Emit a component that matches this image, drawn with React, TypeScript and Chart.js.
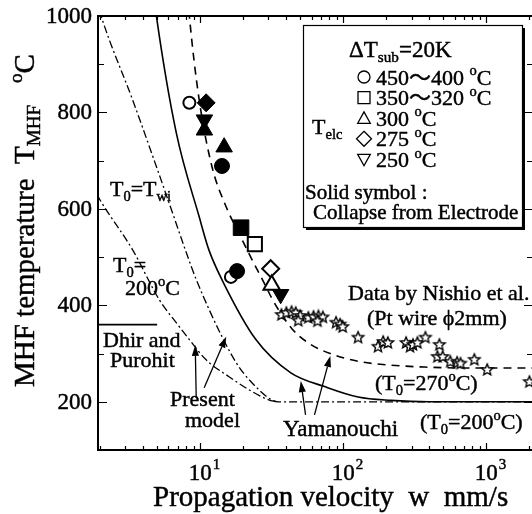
import React, { useEffect, useRef } from "react";
import { Chart, registerables } from "chart.js";

Chart.register(...registerables);

// ---------------- data ----------------
const xMin = 1.93;
const xMax = 2120;
const yMin = 100;
const yMax = 1000;
const yMajorTicks = [200, 400, 600, 800, 1000];
const yMinorTicks = [100, 300, 500, 700, 900];
const xMajorTicks = [10, 100, 1000];
const xMajorExponents = ["1", "2", "3"];

// Yamanouchi, T0 = 200 C (solid)
const yama200X = [4.8, 4.95, 6.8, 9.85, 11.5, 14.2, 24.5, 43, 75, 127, 215, 400, 2200];
const yama200Y = [1030, 998, 758, 583, 515, 453, 329, 260, 231, 210, 203, 200, 200];
// Yamanouchi, T0 = 270 C (dashed)
const yama270X = [8.2, 8.4, 9.84, 12.1, 15.2, 18.6, 23, 28.7, 31.6, 35.4, 43.6, 57, 81, 127, 215, 370, 700, 2200];
const yama270Y = [1040, 1000, 826, 687, 604, 550, 495, 440, 415, 390, 352, 322, 300, 284, 276, 272, 270, 270];
// Present model, T0 = Twi (dash-dot), continuing as the 200 C plateau
const modelTwiX = [1.98, 2.05, 3.37, 4.95, 6.4, 8.0, 9.4, 14.2, 18.6, 25.7, 31.6, 35, 2200];
const modelTwiY = [1012, 996, 826, 687, 592, 509, 453, 335, 273, 225, 204, 200, 200];
// Present model, T0 = 200 C (dash-dot)
const model200X = [1.9, 1.99, 3.37, 5.19, 6.8, 8.4, 11, 15.9, 21.9, 30.1, 34];
const model200Y = [630, 619, 515, 411, 364, 329, 287, 252, 225, 204, 200];
// Dhir and Purohit
const dhirX = [1.9, 5.0];
const dhirY = [360, 360];

// Experimental points (T_elc groups)
const openCircleX = [8.4, 16.4];
const openCircleY = [820, 459];
const filledCircleX = [14.2, 18.1];
const filledCircleY = [689, 471];
const filledSquareX = [19.3];
const filledSquareY = [561];
const openSquareX = [24.1];
const openSquareY = [527];
const filledTriUpX = [10.7, 14.7];
const filledTriUpY = [763, 728];
const openTriUpX = [31.6];
const openTriUpY = [442];
const filledDiamondX = [11.0];
const filledDiamondY = [820];
const openDiamondX = [31.1];
const openDiamondY = [476];
const filledTriDownX = [10.7, 36.5];
const filledTriDownY = [785, 423];

// Data by Nishio et al. (stars)
const nishioX = [37, 40, 43.5, 46.5, 50, 48.5, 57, 62, 67, 72, 66, 89, 95, 99, 127, 175, 190, 205, 275, 293, 307, 330, 375, 470, 455, 495, 560, 625, 660, 825, 1015, 2000];
const nishioY = [380, 384, 386, 384, 378, 368, 374, 376, 377, 375, 367, 364, 360, 355, 333, 314, 324, 322, 322, 314, 318, 322, 333, 318, 293, 293, 283, 281, 279, 287, 266, 241];

// Arrows (data coordinates: tail -> tip)
const arrowTailX = [9.38, 10.66, 54.5, 62.9];
const arrowTailY = [208, 229, 173, 173];
const arrowTipX = [9.23, 15.2, 50.5, 81.2];
const arrowTipY = [318, 335, 243, 295];

// ---------------- helpers ----------------
const SERIF = "'Liberation Serif', 'DejaVu Serif', 'Noto Sans CJK JP', serif";

const zip = (xs: number[], ys: number[]) => xs.map((x, i) => ({ x, y: ys[i] }));

type Seg = { t: string; s?: "sub" | "sup" };

function drawRich(ctx: CanvasRenderingContext2D, segs: Seg[], x: number, y: number, size: number) {
  let cx = x;
  ctx.lineWidth = 0.45;
  ctx.strokeStyle = "#000";
  for (const sg of segs) {
    const fs = sg.s ? size * 0.66 : size;
    ctx.font = `${fs}px ${SERIF}`;
    const dy = sg.s === "sub" ? size * 0.22 : sg.s === "sup" ? -size * 0.42 : 0;
    ctx.fillText(sg.t, cx, y + dy);
    ctx.strokeText(sg.t, cx, y + dy);
    cx += ctx.measureText(sg.t).width;
  }
  return cx - x;
}

function makeStar(r: number) {
  const c = document.createElement("canvas");
  const s = Math.ceil(r * 2 + 4);
  c.width = s;
  c.height = s;
  const g = c.getContext("2d")!;
  g.beginPath();
  for (let i = 0; i < 10; i++) {
    const ang = -Math.PI / 2 + (i * Math.PI) / 5;
    const rr = i % 2 === 0 ? r : r * 0.45;
    g.lineTo(s / 2 + rr * Math.cos(ang), s / 2 + rr * Math.sin(ang));
  }
  g.closePath();
  g.fillStyle = "#fff";
  g.fill();
  g.lineWidth = 1.4;
  g.strokeStyle = "#000";
  g.stroke();
  return c;
}

function drawSymbol(ctx: CanvasRenderingContext2D, kind: string, x: number, y: number, r: number) {
  ctx.beginPath();
  if (kind === "circle") {
    ctx.arc(x, y, r, 0, Math.PI * 2);
  } else if (kind === "square") {
    ctx.rect(x - r, y - r, 2 * r, 2 * r);
  } else if (kind === "triUp") {
    ctx.moveTo(x, y - r * 1.05);
    ctx.lineTo(x + r * 1.05, y + r * 0.85);
    ctx.lineTo(x - r * 1.05, y + r * 0.85);
    ctx.closePath();
  } else if (kind === "triDown") {
    ctx.moveTo(x, y + r * 1.05);
    ctx.lineTo(x + r * 1.05, y - r * 0.85);
    ctx.lineTo(x - r * 1.05, y - r * 0.85);
    ctx.closePath();
  } else if (kind === "diamond") {
    ctx.moveTo(x, y - r * 1.25);
    ctx.lineTo(x + r * 1.25, y);
    ctx.lineTo(x, y + r * 1.25);
    ctx.lineTo(x - r * 1.25, y);
    ctx.closePath();
  }
  ctx.stroke();
}

const decorPlugin = {
  id: "decor",
  afterDraw(chart: any) {
    const ctx: CanvasRenderingContext2D = chart.ctx;
    const xs = chart.scales.x;
    const ys = chart.scales.y;
    const { left, right, top, bottom } = chart.chartArea;
    ctx.save();
    ctx.strokeStyle = "#000";
    ctx.fillStyle = "#000";

    // frame
    ctx.lineWidth = 2;
    ctx.beginPath();
    ctx.moveTo(left, top);
    ctx.lineTo(right, top);
    ctx.lineTo(right, bottom);
    ctx.lineTo(left, bottom);
    ctx.closePath();
    ctx.stroke();

    // x ticks (log)
    ctx.lineWidth = 1.2;
    for (let d = 1; d <= 1000; d *= 10) {
      for (let m = 1; m <= 9; m++) {
        const v = d * m;
        if (v < xMin || v > xMax) continue;
        const px = Math.round(xs.getPixelForValue(v)) + 0.5;
        const len = m === 1 ? 7 : 4;
        ctx.beginPath();
        ctx.moveTo(px, bottom);
        ctx.lineTo(px, bottom - len);
        ctx.moveTo(px, top);
        ctx.lineTo(px, top + len);
        ctx.stroke();
      }
    }
    // y ticks
    const yt = [...yMajorTicks.map((v) => [v, 9]), ...yMinorTicks.map((v) => [v, 6])];
    for (const [v, len] of yt) {
      const py = Math.round(ys.getPixelForValue(v)) + 0.5;
      ctx.beginPath();
      ctx.moveTo(left, py);
      ctx.lineTo(left + len, py);
      ctx.moveTo(right, py);
      ctx.lineTo(right - len, py);
      ctx.stroke();
    }

    // tick labels
    ctx.textBaseline = "middle";
    ctx.textAlign = "right";
    ctx.font = `23px ${SERIF}`;
    ctx.lineWidth = 0.45;
    for (const v of yMajorTicks) {
      const py = ys.getPixelForValue(v) + 1;
      ctx.fillText(String(v), left - 6, py);
      ctx.strokeText(String(v), left - 6, py);
    }
    ctx.textBaseline = "alphabetic";
    ctx.textAlign = "left";
    xMajorTicks.forEach((v, i) => {
      const px = xs.getPixelForValue(v);
      ctx.font = `23px ${SERIF}`;
      const w = ctx.measureText("10").width;
      drawRich(ctx, [{ t: "10" }], px - w / 2, bottom + 30, 23);
      drawRich(ctx, [{ t: xMajorExponents[i] }], px + w / 2 + 1, bottom + 19, 15);
    });

    // axis titles
    drawRich(ctx, [{ t: "Propagation velocity  w  mm/s" }], 153, bottom + 56, 29);
    ctx.save();
    ctx.translate(34, 387);
    ctx.rotate(-Math.PI / 2);
    drawRich(
      ctx,
      [{ t: "MHF temperature  T" }, { t: "MHF", s: "sub" }, { t: "   " }, { t: "o", s: "sup" }, { t: "C" }],
      0,
      0,
      29
    );
    ctx.restore();

    // annotations
    const F = 22;
    drawRich(ctx, [{ t: "T" }, { t: "0", s: "sub" }, { t: "=T" }, { t: "wi", s: "sub" }], 110, 196, F);
    drawRich(ctx, [{ t: "T" }, { t: "0", s: "sub" }, { t: "=" }], 113, 272, F);
    drawRich(ctx, [{ t: "200" }, { t: "o", s: "sup" }, { t: "C" }], 125, 295, F);
    drawRich(ctx, [{ t: "Dhir and" }], 103, 347, F);
    drawRich(ctx, [{ t: "Purohit" }], 110, 367, F);
    drawRich(ctx, [{ t: "Present" }], 170, 406, F);
    drawRich(ctx, [{ t: "model" }], 185, 427, F);
    drawRich(ctx, [{ t: "Yamanouchi" }], 283, 436, 23);
    drawRich(ctx, [{ t: "(T" }, { t: "0", s: "sub" }, { t: "=200" }, { t: "o", s: "sup" }, { t: "C)" }], 420, 429, F);
    drawRich(ctx, [{ t: "(T" }, { t: "0", s: "sub" }, { t: "=270" }, { t: "o", s: "sup" }, { t: "C)" }], 375, 390, F);
    drawRich(ctx, [{ t: "Data by Nishio et al." }], 348, 300, F);
    drawRich(ctx, [{ t: "(Pt wire \u03D52mm)" }], 367, 325, F);

    // arrows
    ctx.lineWidth = 1.3;
    for (let i = 0; i < arrowTailX.length; i++) {
      const x0 = xs.getPixelForValue(arrowTailX[i]);
      const y0 = ys.getPixelForValue(arrowTailY[i]);
      const x1 = xs.getPixelForValue(arrowTipX[i]);
      const y1 = ys.getPixelForValue(arrowTipY[i]);
      const ang = Math.atan2(y1 - y0, x1 - x0);
      const hl = 11;
      const hw = 3.6;
      const bx = x1 - hl * Math.cos(ang);
      const by = y1 - hl * Math.sin(ang);
      ctx.beginPath();
      ctx.moveTo(x0, y0);
      ctx.lineTo(bx, by);
      ctx.stroke();
      ctx.beginPath();
      ctx.moveTo(x1, y1);
      ctx.lineTo(bx + hw * Math.sin(ang), by - hw * Math.cos(ang));
      ctx.lineTo(bx - hw * Math.sin(ang), by + hw * Math.cos(ang));
      ctx.closePath();
      ctx.fill();
    }

    // legend box
    const bx0 = 303, by0 = 25, bw = 219, bh = 202;
    ctx.fillStyle = "#000";
    ctx.fillRect(bx0 + 3, by0 + 3, bw, bh);
    ctx.fillStyle = "#fff";
    ctx.fillRect(bx0, by0, bw, bh);
    ctx.lineWidth = 1.2;
    ctx.strokeRect(bx0 + 0.5, by0 + 0.5, bw, bh);
    ctx.fillStyle = "#000";

    const LF = 22;
    drawRich(ctx, [{ t: "\u0394T" }, { t: "sub", s: "sub" }, { t: "=20K" }], 349, 57, 23);
    const rows: [string, Seg[]][] = [
      ["circle", [{ t: "450\u301C400 " }, { t: "o", s: "sup" }, { t: "C" }]],
      ["square", [{ t: "350\u301C320 " }, { t: "o", s: "sup" }, { t: "C" }]],
      ["triUp", [{ t: "300 " }, { t: "o", s: "sup" }, { t: "C" }]],
      ["diamond", [{ t: "275 " }, { t: "o", s: "sup" }, { t: "C" }]],
      ["triDown", [{ t: "250 " }, { t: "o", s: "sup" }, { t: "C" }]],
    ];
    rows.forEach(([k, segs], i) => {
      const cy = 77 + i * 20.6;
      ctx.lineWidth = 1.3;
      drawSymbol(ctx, k, 364, cy, 6);
      drawRich(ctx, segs, 376, cy + 7.5, LF);
    });
    drawRich(ctx, [{ t: "T" }, { t: "elc", s: "sub" }], 312, 134, LF);
    drawRich(ctx, [{ t: "Solid symbol :" }], 305, 199, 21);
    drawRich(ctx, [{ t: "Collapse from Electrode" }], 313, 219, 21);

    ctx.restore();
  },
};

export default function App() {
  const ref = useRef<HTMLCanvasElement>(null);
  useEffect(() => {
    if (!ref.current) return;
    const star = makeStar(6);
    const lineDs = (data: any[], dash: number[], width: number) => ({
      type: "scatter",
      data,
      showLine: true,
      borderColor: "#000",
      borderWidth: width,
      borderDash: dash,
      pointRadius: 0,
      cubicInterpolationMode: "monotone",
      tension: 0.3,
      fill: false,
      order: 20,
    });
    const markerDs = (data: any[], style: any, r: number, filled: boolean, order: number, rot = 0) => ({
      type: "scatter",
      data,
      showLine: false,
      pointStyle: style,
      pointRadius: r,
      pointRotation: rot,
      pointBackgroundColor: filled ? "#000" : "#fff",
      pointBorderColor: "#000",
      pointBorderWidth: filled ? 1 : 2,
      order,
    });
    const chart = new Chart(ref.current, {
      type: "scatter",
      data: {
        datasets: [
          lineDs(zip(yama200X, yama200Y), [], 1.6),
          lineDs(zip(yama270X, yama270Y), [8, 6], 1.6),
          lineDs(zip(modelTwiX, modelTwiY), [8, 3, 2, 3], 1.3),
          lineDs(zip(model200X, model200Y), [8, 3, 2, 3], 1.3),
          lineDs(zip(dhirX, dhirY), [], 1.6),
          {
            type: "scatter",
            data: zip(nishioX, nishioY),
            pointStyle: star,
            pointRadius: 6,
            order: 10,
          },
          markerDs(zip(openCircleX, openCircleY), "circle", 6, false, 6),
          markerDs(zip(filledCircleX, filledCircleY), "circle", 7.5, true, 1),
          markerDs(zip(filledSquareX, filledSquareY), "rect", 11, true, 1),
          markerDs(zip(openSquareX, openSquareY), "rect", 10, false, 2),
          markerDs(zip(filledTriUpX, filledTriUpY), "triangle", 9.5, true, 1),
          markerDs(zip(openTriUpX, openTriUpY), "triangle", 9.5, false, 3),
          markerDs(zip(filledDiamondX, filledDiamondY), "rectRot", 9, true, 1),
          markerDs(zip(openDiamondX, openDiamondY), "rectRot", 8.5, false, 4),
          markerDs(zip(filledTriDownX, filledTriDownY), "triangle", 9.5, true, 1, 180),
        ] as any,
      },
      options: {
        animation: false,
        responsive: false,
        maintainAspectRatio: false,
        events: [],
        layout: { padding: { left: 98, top: 16, right: 9, bottom: 64 } },
        plugins: { legend: { display: false }, tooltip: { enabled: false } },
        scales: {
          x: { type: "logarithmic", min: xMin, max: xMax, display: false },
          y: { type: "linear", min: yMin, max: yMax, display: false },
        },
      } as any,
      plugins: [decorPlugin],
    });
    return () => chart.destroy();
  }, []);
  return (
    <div
      style={{
        position: "fixed",
        left: 0,
        top: 0,
        width: 532,
        height: 514,
        overflow: "hidden",
        background: "#fff",
      }}
    >
      <canvas ref={ref} width={545} height={514} style={{ width: 545, height: 514, display: "block" }} />
    </div>
  );
}
